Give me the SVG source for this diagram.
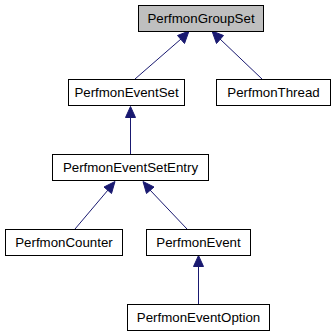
<svg xmlns="http://www.w3.org/2000/svg" width="334" height="336" viewBox="0 0 334 336">
  <style>
    .box { fill: #ffffff; stroke: #000000; stroke-width: 1; }
    .root { fill: #bfbfbf; }
    .lbl { font-family: "Liberation Sans", Arial, sans-serif; font-size: 13.3px; fill: #000000; text-anchor: middle; }
    .edge { stroke: #191970; stroke-width: 1; fill: none; }
    .head { fill: #191970; stroke: #191970; stroke-width: 1; }
  </style>
  <rect width="334" height="336" fill="#ffffff"/>

  <g id="edges">
    <!-- PerfmonEventSet -> PerfmonGroupSet -->
    <g>
      <line class="edge" x1="135" y1="79" x2="181" y2="39"/>
      <polygon class="head" points="189,31 177.5,35.5 184.5,43.5"/>
    </g>
    <!-- PerfmonThread -> PerfmonGroupSet -->
    <g>
      <line class="edge" x1="262" y1="79" x2="220" y2="39"/>
      <polygon class="head" points="212,31 216.5,43.5 223.5,35.5"/>
    </g>
    <!-- PerfmonEventSetEntry -> PerfmonEventSet -->
    <g>
      <line class="edge" x1="130.5" y1="154" x2="130.5" y2="117"/>
      <polygon class="head" points="130.5,106.5 125.5,117.5 135.5,117.5"/>
    </g>
    <!-- PerfmonCounter -> PerfmonEventSetEntry -->
    <g>
      <line class="edge" x1="75" y1="229" x2="108" y2="190"/>
      <polygon class="head" points="115,181.5 104,187 111.5,193.5"/>
    </g>
    <!-- PerfmonEvent -> PerfmonEventSetEntry -->
    <g>
      <line class="edge" x1="187" y1="229" x2="150" y2="190"/>
      <polygon class="head" points="143,181.5 146.5,193.5 154,187"/>
    </g>
    <!-- PerfmonEventOption -> PerfmonEvent -->
    <g>
      <line class="edge" x1="198.5" y1="304" x2="198.5" y2="266"/>
      <polygon class="head" points="198.5,255.5 193.5,266.5 203.5,266.5"/>
    </g>
  </g>

  <g id="PerfmonGroupSet">
    <rect class="box root" x="138.5" y="5.5" width="125" height="26"/>
    <text class="lbl" x="201" y="23">PerfmonGroupSet</text>
  </g>
  <g id="PerfmonEventSet">
    <rect class="box" x="68.5" y="79.5" width="116" height="26"/>
    <text class="lbl" x="126.5" y="97">PerfmonEventSet</text>
  </g>
  <g id="PerfmonThread">
    <rect class="box" x="216.5" y="79.5" width="114" height="26"/>
    <text class="lbl" x="273.5" y="97">PerfmonThread</text>
  </g>
  <g id="PerfmonEventSetEntry">
    <rect class="box" x="52.5" y="154.5" width="156" height="26"/>
    <text class="lbl" x="130.5" y="172">PerfmonEventSetEntry</text>
  </g>
  <g id="PerfmonCounter">
    <rect class="box" x="5.5" y="229.5" width="117" height="26"/>
    <text class="lbl" x="64" y="247">PerfmonCounter</text>
  </g>
  <g id="PerfmonEvent">
    <rect class="box" x="146.5" y="229.5" width="104" height="26"/>
    <text class="lbl" x="198.5" y="247">PerfmonEvent</text>
  </g>
  <g id="PerfmonEventOption">
    <rect class="box" x="127.5" y="304.5" width="142" height="26"/>
    <text class="lbl" x="198.5" y="322">PerfmonEventOption</text>
  </g>
</svg>
